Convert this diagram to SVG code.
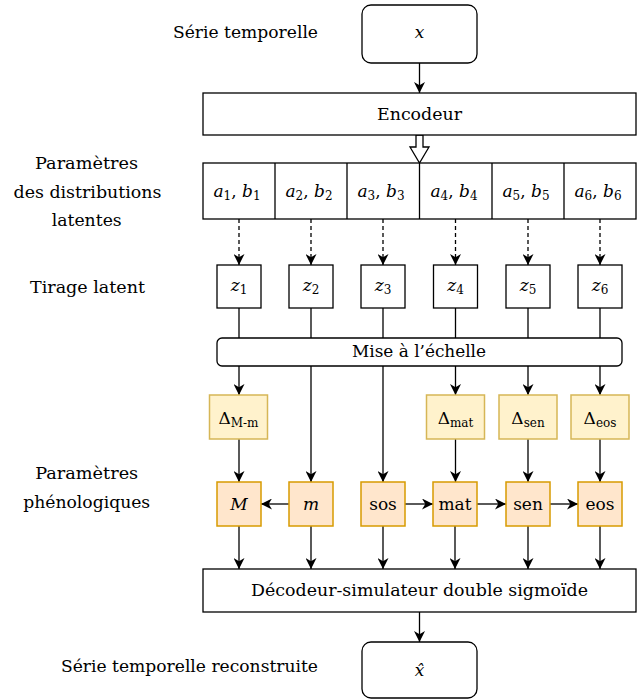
<svg xmlns="http://www.w3.org/2000/svg" width="644" height="700" viewBox="0 0 644 700">
<style>
text{font-family:'DejaVu Serif','Liberation Serif',serif;font-size:17px;fill:#000}
.c{text-anchor:middle}
.i{font-style:italic}
.s{font-size:12px}
.box{fill:#fff;stroke:#000;stroke-width:1.3}
.yel{fill:#fff2cc;stroke:#d6b656;stroke-width:1.5}
.ora{fill:#ffe6cc;stroke:#d79b00;stroke-width:1.5}
.ln{fill:none;stroke:#000;stroke-width:1.3}
.ar{marker-end:url(#arr)}
.da{stroke-dasharray:4 3}
</style>
<defs>
<marker id="arr" viewBox="0 0 10 10" refX="10" refY="5" markerWidth="11" markerHeight="11" markerUnits="userSpaceOnUse" orient="auto">
<path d="M0,0 L10,5 L0,10 L3,5 Z" fill="#000"/>
</marker>
</defs>
<rect width="644" height="700" fill="#fff"/>

<g id="labels">
<text class="c" x="245.5" y="38" textLength="145" lengthAdjust="spacingAndGlyphs">Série temporelle</text>
<text class="c" x="86.5" y="169" textLength="103" lengthAdjust="spacingAndGlyphs">Paramètres</text>
<text class="c" x="87.5" y="197.5" textLength="148" lengthAdjust="spacingAndGlyphs">des distributions</text>
<text class="c" x="86.7" y="226" textLength="70" lengthAdjust="spacingAndGlyphs">latentes</text>
<text class="c" x="87.5" y="293" textLength="115" lengthAdjust="spacingAndGlyphs">Tirage latent</text>
<text class="c" x="86.7" y="479" textLength="103" lengthAdjust="spacingAndGlyphs">Paramètres</text>
<text class="c" x="86.7" y="507.5" textLength="127" lengthAdjust="spacingAndGlyphs">phénologiques</text>
<text class="c" x="189.5" y="672" textLength="257" lengthAdjust="spacingAndGlyphs">Série temporelle reconstruite</text>
</g>

<g id="connectors">
<line class="ln ar" x1="419.5" y1="63" x2="419.5" y2="93"/>
<polygon points="416,135 423,135 423,147 429,147 419.5,163 410,147 416,147" fill="#fff" stroke="#000" stroke-width="1.3"/>
<line class="ln ar da" x1="239" y1="219" x2="239" y2="265"/>
<line class="ln ar da" x1="311" y1="219" x2="311" y2="265"/>
<line class="ln ar da" x1="383" y1="219" x2="383" y2="265"/>
<line class="ln ar da" x1="455.5" y1="219" x2="455.5" y2="265"/>
<line class="ln ar da" x1="528" y1="219" x2="528" y2="265"/>
<line class="ln ar da" x1="600" y1="219" x2="600" y2="265"/>
<line class="ln" x1="239" y1="308" x2="239" y2="338"/>
<line class="ln" x1="311" y1="308" x2="311" y2="338"/>
<line class="ln" x1="383" y1="308" x2="383" y2="338"/>
<line class="ln" x1="455.5" y1="308" x2="455.5" y2="338"/>
<line class="ln" x1="528" y1="308" x2="528" y2="338"/>
<line class="ln" x1="600" y1="308" x2="600" y2="338"/>
<line class="ln ar" x1="239" y1="366" x2="239" y2="395"/>
<line class="ln ar" x1="311" y1="366" x2="311" y2="482"/>
<line class="ln ar" x1="383" y1="366" x2="383" y2="482"/>
<line class="ln ar" x1="455.5" y1="366" x2="455.5" y2="395"/>
<line class="ln ar" x1="528" y1="366" x2="528" y2="395"/>
<line class="ln ar" x1="600" y1="366" x2="600" y2="395"/>
<line class="ln ar" x1="239" y1="439" x2="239" y2="482"/>
<line class="ln ar" x1="455.5" y1="439" x2="455.5" y2="482"/>
<line class="ln ar" x1="528" y1="439" x2="528" y2="482"/>
<line class="ln ar" x1="600" y1="439" x2="600" y2="482"/>
<line class="ln ar" x1="289" y1="504" x2="261" y2="504"/>
<line class="ln ar" x1="405" y1="504" x2="433" y2="504"/>
<line class="ln ar" x1="477" y1="504" x2="506" y2="504"/>
<line class="ln ar" x1="550" y1="504" x2="578" y2="504"/>
<line class="ln ar" x1="239" y1="526" x2="239" y2="569"/>
<line class="ln ar" x1="311" y1="526" x2="311" y2="569"/>
<line class="ln ar" x1="383" y1="526" x2="383" y2="569"/>
<line class="ln ar" x1="455" y1="526" x2="455" y2="569"/>
<line class="ln ar" x1="528" y1="526" x2="528" y2="569"/>
<line class="ln ar" x1="600" y1="526" x2="600" y2="569"/>
<line class="ln ar" x1="419.5" y1="612" x2="419.5" y2="642"/>
</g>

<g id="input">
<rect class="box" x="362" y="5" width="115" height="58" rx="9"/>
<text class="c i" x="419.5" y="38">x</text>
</g>
<g id="encoder">
<rect class="box" x="203" y="93" width="433" height="42"/>
<text class="c" x="419.5" y="120" textLength="85" lengthAdjust="spacingAndGlyphs">Encodeur</text>
</g>
<g id="params">
<rect class="box" x="203" y="163" width="433" height="56"/>
<line class="ln" x1="275" y1="163" x2="275" y2="219"/>
<line class="ln" x1="347" y1="163" x2="347" y2="219"/>
<line class="ln" x1="419.5" y1="163" x2="419.5" y2="219"/>
<line class="ln" x1="492" y1="163" x2="492" y2="219"/>
<line class="ln" x1="564" y1="163" x2="564" y2="219"/>
<text class="c" x="237" y="197"><tspan class="i">a</tspan><tspan class="s" dy="3">1</tspan><tspan dy="-3">, </tspan><tspan class="i">b</tspan><tspan class="s" dy="3">1</tspan></text>
<text class="c" x="309" y="197"><tspan class="i">a</tspan><tspan class="s" dy="3">2</tspan><tspan dy="-3">, </tspan><tspan class="i">b</tspan><tspan class="s" dy="3">2</tspan></text>
<text class="c" x="381" y="197"><tspan class="i">a</tspan><tspan class="s" dy="3">3</tspan><tspan dy="-3">, </tspan><tspan class="i">b</tspan><tspan class="s" dy="3">3</tspan></text>
<text class="c" x="454" y="197"><tspan class="i">a</tspan><tspan class="s" dy="3">4</tspan><tspan dy="-3">, </tspan><tspan class="i">b</tspan><tspan class="s" dy="3">4</tspan></text>
<text class="c" x="526" y="197"><tspan class="i">a</tspan><tspan class="s" dy="3">5</tspan><tspan dy="-3">, </tspan><tspan class="i">b</tspan><tspan class="s" dy="3">5</tspan></text>
<text class="c" x="598" y="197"><tspan class="i">a</tspan><tspan class="s" dy="3">6</tspan><tspan dy="-3">, </tspan><tspan class="i">b</tspan><tspan class="s" dy="3">6</tspan></text>
</g>
<g id="z1"><rect class="box" x="217" y="265" width="44" height="43"/><text class="c" x="239" y="291"><tspan class="i">z</tspan><tspan class="s" dy="3">1</tspan></text></g>
<g id="z2"><rect class="box" x="289" y="265" width="44" height="43"/><text class="c" x="311" y="291"><tspan class="i">z</tspan><tspan class="s" dy="3">2</tspan></text></g>
<g id="z3"><rect class="box" x="361" y="265" width="44" height="43"/><text class="c" x="383" y="291"><tspan class="i">z</tspan><tspan class="s" dy="3">3</tspan></text></g>
<g id="z4"><rect class="box" x="433.5" y="265" width="44" height="43"/><text class="c" x="455.5" y="291"><tspan class="i">z</tspan><tspan class="s" dy="3">4</tspan></text></g>
<g id="z5"><rect class="box" x="506" y="265" width="44" height="43"/><text class="c" x="528" y="291"><tspan class="i">z</tspan><tspan class="s" dy="3">5</tspan></text></g>
<g id="z6"><rect class="box" x="578" y="265" width="44" height="43"/><text class="c" x="600" y="291"><tspan class="i">z</tspan><tspan class="s" dy="3">6</tspan></text></g>
<g id="scaling">
<rect class="box" x="217" y="338" width="405" height="28" rx="5"/>
<text class="c" x="419" y="357" textLength="134" lengthAdjust="spacingAndGlyphs">Mise à l’échelle</text>
</g>
<g id="dMm"><rect class="yel" x="209.5" y="395" width="58" height="44"/><text class="c" x="238.5" y="424">Δ<tspan class="s" dy="3">M-m</tspan></text></g>
<g id="dmat"><rect class="yel" x="426.5" y="395" width="58" height="44"/><text class="c" x="455.5" y="424">Δ<tspan class="s" dy="3">mat</tspan></text></g>
<g id="dsen"><rect class="yel" x="499" y="395" width="58" height="44"/><text class="c" x="528" y="424">Δ<tspan class="s" dy="3">sen</tspan></text></g>
<g id="deos"><rect class="yel" x="571" y="395" width="58" height="44"/><text class="c" x="600" y="424">Δ<tspan class="s" dy="3">eos</tspan></text></g>
<g id="M"><rect class="ora" x="217" y="482" width="44" height="44"/><text class="c i" x="239" y="510">M</text></g>
<g id="m"><rect class="ora" x="289" y="482" width="44" height="44"/><text class="c i" x="311" y="510">m</text></g>
<g id="sos"><rect class="ora" x="361" y="482" width="44" height="44"/><text class="c" x="383" y="510">sos</text></g>
<g id="mat"><rect class="ora" x="433" y="482" width="44" height="44"/><text class="c" x="455" y="510">mat</text></g>
<g id="sen"><rect class="ora" x="506" y="482" width="44" height="44"/><text class="c" x="528" y="510">sen</text></g>
<g id="eos"><rect class="ora" x="578" y="482" width="44" height="44"/><text class="c" x="600" y="510">eos</text></g>
<g id="decoder">
<rect class="box" x="203" y="569" width="433" height="43"/>
<text class="c" x="419.5" y="596" textLength="337" lengthAdjust="spacingAndGlyphs">Décodeur-simulateur double sigmoïde</text>
</g>
<g id="output">
<rect class="box" x="362" y="642" width="115" height="56" rx="9"/>
<text class="c i" x="419.5" y="676">x̂</text>
</g>
</svg>
